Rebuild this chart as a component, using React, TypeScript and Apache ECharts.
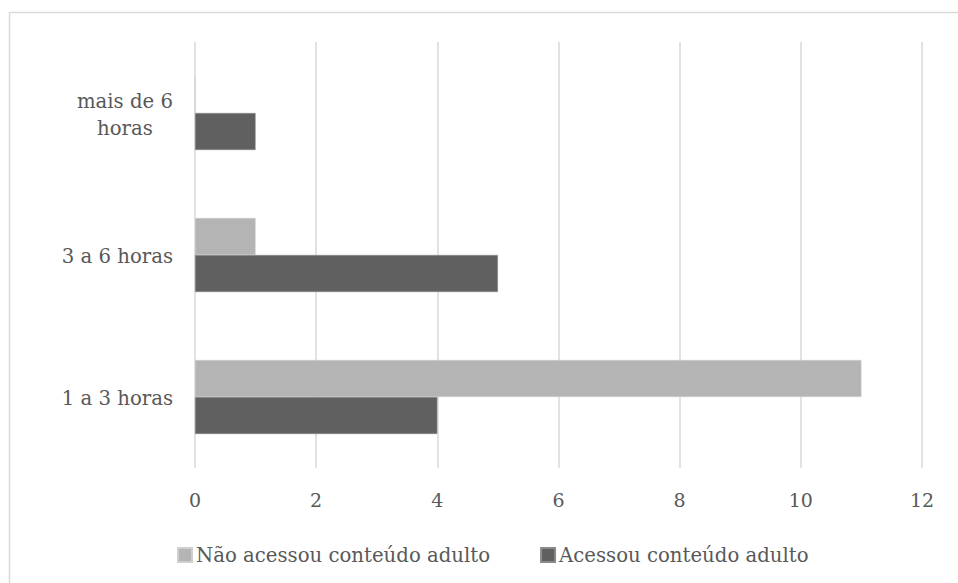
import React, { useEffect, useRef } from "react";
import * as echarts from "echarts";

const categories = ["1 a 3 horas", "3 a 6 horas", "mais de 6\nhoras"];
const naoAcessou = [11, 1, 0];
const acessou = [4, 5, 1];
const seriesNames = ["Não acessou conteúdo adulto", "Acessou conteúdo adulto"];
const xTicks = { min: 0, max: 12, interval: 2 };

const FONT = "'DejaVu Serif', serif";
const TEXT = "#595959";
const FS = 19.7;

export default function App() {
  const ref = useRef<HTMLDivElement>(null);
  useEffect(() => {
    const chart = echarts.init(ref.current!, null, { renderer: "svg" });
    chart.setOption({
      animation: false,
      backgroundColor: "#ffffff",
      graphic: [
        {
          type: "rect",
          shape: { x: 9.5, y: 12.5, width: 960, height: 600 },
          style: { fill: "none", stroke: "#d9d9d9", lineWidth: 1.5 },
          silent: true,
        },
      ],
      grid: { left: 195, right: 36, top: 42, bottom: 115 },
      xAxis: {
        type: "value",
        min: xTicks.min,
        max: xTicks.max,
        interval: xTicks.interval,
        axisLine: { show: false },
        axisTick: { show: false },
        splitLine: { lineStyle: { color: "#d9d9d9", width: 1.5 } },
        axisLabel: { color: TEXT, fontFamily: FONT, fontSize: 19, margin: 22 },
      },
      yAxis: {
        type: "category",
        data: categories,
        axisLine: { show: false },
        axisTick: { show: false },
        axisLabel: {
          color: TEXT,
          fontFamily: FONT,
          fontSize: FS,
          margin: 22,
          formatter: (v: string) =>
            v
              .split("\n")
              .map((s) => "{c|" + s + "}")
              .join("\n"),
          rich: {
            c: {
              color: TEXT,
              fontFamily: FONT,
              fontSize: FS,
              lineHeight: 27,
              align: "center",
              padding: [3, 0, 0, 0],
            },
          },
        },
      },
      legend: {
        data: seriesNames,
        left: 172,
        top: 540,
        itemWidth: 14,
        itemHeight: 14,
        itemGap: 50,
        icon: "rect",
        textStyle: { color: TEXT, fontFamily: FONT, fontSize: FS, padding: [0, 0, 0, -1] },
      },
      series: [
        {
          name: seriesNames[0],
          type: "bar",
          data: naoAcessou,
          barWidth: 37,
          barGap: "0%",
          itemStyle: { color: "#b4b4b4", borderColor: "#cfcfcf", borderWidth: 0.5 },
        },
        {
          name: seriesNames[1],
          type: "bar",
          data: acessou,
          barWidth: 37,
          barGap: "0%",
          itemStyle: { color: "#606060", borderColor: "#8a8a8a", borderWidth: 0.5 },
        },
      ],
    });
    return () => chart.dispose();
  }, []);
  return (
    <div
      ref={ref}
      style={{ position: "absolute", left: 0, top: 0, width: 958, height: 583 }}
    />
  );
}
